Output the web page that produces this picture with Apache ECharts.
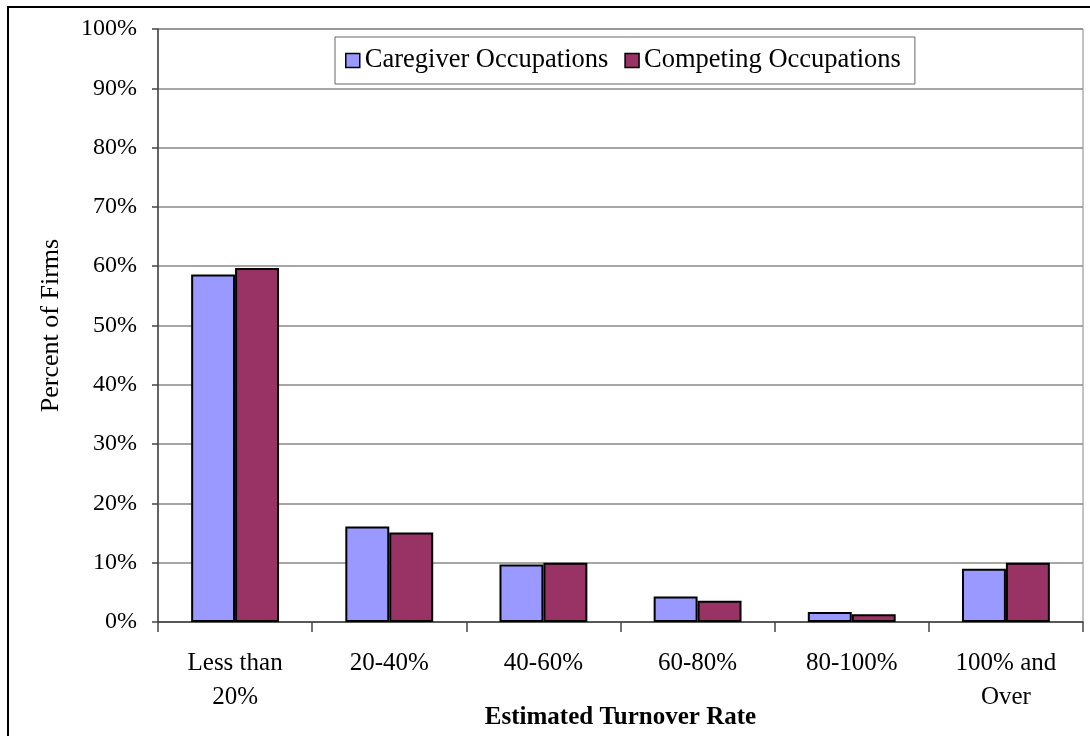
<!DOCTYPE html>
<html>
<head>
<meta charset="utf-8">
<script src="https://cdn.jsdelivr.net/npm/echarts@6/dist/echarts.min.js"></script>
<style>html,body{margin:0;padding:0;background:#fff;}#c{width:1090px;height:736px;}</style>
</head>
<body>
<div id="c"></div>
<script>
const categories = ['Less than\n20%', '20-40%', '40-60%', '60-80%', '80-100%', '100% and\nOver'];
const caregiver = [58.6, 16.1, 9.7, 4.3, 1.7, 9.0];
const competing = [59.7, 15.1, 10.0, 3.6, 1.3, 10.0];
const seriesNames = ['Caregiver Occupations', 'Competing Occupations'];
const xTitle = 'Estimated Turnover Rate';
const yTitle = 'Percent of Firms';

const FONT = '"Liberation Serif", "Times New Roman", serif';
const chart = echarts.init(document.getElementById('c'), null, {renderer: 'canvas'});
chart.setOption({
  backgroundColor: '#fff',
  animation: false,
  textStyle: {fontFamily: FONT, color: '#000'},
  graphic: [{
    type: 'rect', shape: {x: 8, y: 7, width: 1200, height: 900},
    style: {fill: 'none', stroke: '#000', lineWidth: 2}, z: 100
  }],
  grid: {left: 158, right: 7, top: 29, bottom: 114, show: true, borderColor: '#888', borderWidth: 1,
         containLabel: false, outerBoundsMode: 'none'},
  legend: {
    left: 335, top: 37, width: 620,
    padding: [10, 14, 10, 10],
    borderColor: '#666', borderWidth: 1,
    icon: 'rect',
    itemWidth: 14, itemHeight: 14, itemGap: 16,
    textStyle: {fontFamily: FONT, fontSize: 26.5, color: '#000'},
    itemStyle: {borderColor: '#000', borderWidth: 1.5},
    data: seriesNames
  },
  xAxis: {
    type: 'category', data: categories,
    axisLine: {lineStyle: {color: '#444', width: 1.5}},
    axisTick: {show: true, length: 10, lineStyle: {color: '#444', width: 1.5}},
    axisLabel: {fontFamily: FONT, fontSize: 25, color: '#000', lineHeight: 34, margin: 24, interval: 0},
    name: xTitle, nameLocation: 'middle', nameGap: 83, nameMoveOverlap: false,
    nameTextStyle: {fontFamily: FONT, fontSize: 25, fontWeight: 'bold', color: '#000'}
  },
  yAxis: {
    type: 'value', min: 0, max: 100, interval: 10,
    axisLine: {show: true, lineStyle: {color: '#444', width: 1.5}},
    axisTick: {show: true, length: 6, lineStyle: {color: '#444', width: 1.5}},
    axisLabel: {fontFamily: FONT, fontSize: 24, color: '#000', margin: 21, formatter: '{value}%'},
    splitLine: {lineStyle: {color: '#888', width: 1.5}},
    name: yTitle, nameLocation: 'middle', nameGap: 94, nameMoveOverlap: false,
    nameTextStyle: {fontFamily: FONT, fontSize: 26, color: '#000'}
  },
  series: [
    {name: seriesNames[0], type: 'bar', data: caregiver, barGap: '0%', barCategoryGap: '43%',
     itemStyle: {color: '#9999FF', borderColor: '#000', borderWidth: 2}},
    {name: seriesNames[1], type: 'bar', data: competing, barGap: '0%', barCategoryGap: '43%',
     itemStyle: {color: '#993366', borderColor: '#000', borderWidth: 2}}
  ]
});
</script>
</body>
</html>
